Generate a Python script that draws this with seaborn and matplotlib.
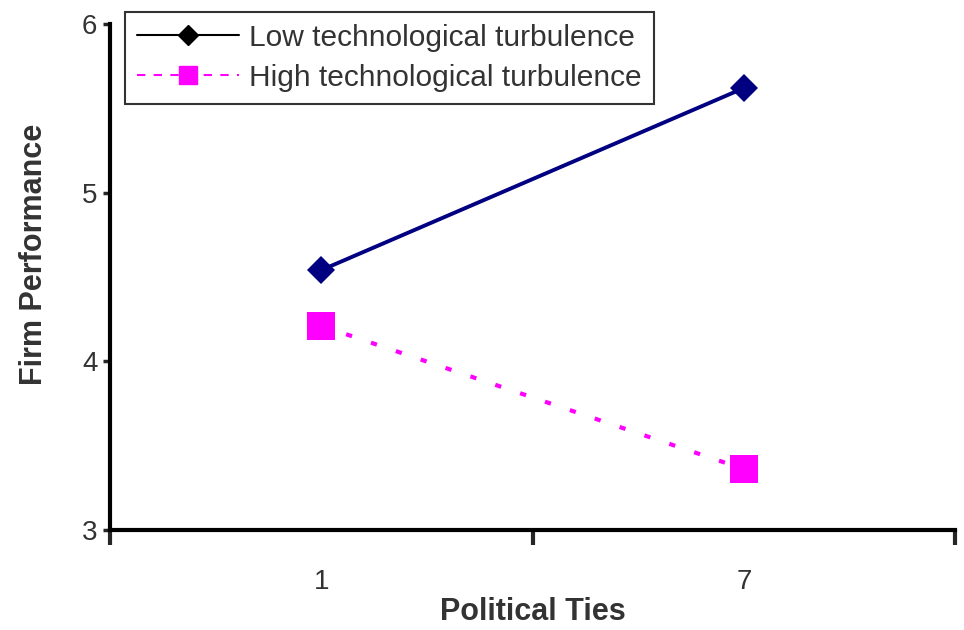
import matplotlib.pyplot as plt
import matplotlib.lines as mlines
import seaborn as sns
import pandas as pd

ties = ["1", "7"]
low_turb = [4.54, 5.62]
high_turb = [4.21, 3.36]
series_names = ["Low technological turbulence", "High technological turbulence"]

df = pd.DataFrame({
    "ties": ties * 2,
    "pos": [0, 1] * 2,
    "perf": low_turb + high_turb,
    "group": [series_names[0]] * 2 + [series_names[1]] * 2,
})

sns.set_style("white")
plt.rcParams['font.family'] = ['Liberation Sans', 'DejaVu Sans']

fig = plt.figure(figsize=(9.64, 6.3), dpi=100)
ax = fig.add_axes([0.114, 0.159, 0.877, 0.803])

sns.lineplot(data=df[df.group == series_names[0]], x="pos", y="perf", ax=ax,
             color="#000080", marker="D", markersize=14, linewidth=2.8,
             markeredgewidth=0, legend=False)
sns.lineplot(data=df[df.group == series_names[1]], x="pos", y="perf", ax=ax,
             color="#FF00FF", marker="s", markersize=20, linewidth=3.0,
             markeredgewidth=0, dashes=False, legend=False)
ax.lines[-1].set_dashes((1.5, 4.8))

ax.set_xlim(-0.5, 1.5)
ax.set_ylim(3, 6)
ax.set_yticks([3, 4, 5, 6])
ax.set_xticks([-0.5, 0.5, 1.5])
ax.set_xticklabels([])
ax.set_xticks([0, 1], minor=True)
ax.set_xticklabels(ties, minor=True)
ax.tick_params(axis="x", which="major", direction="out", length=11, width=3, bottom=True)
ax.tick_params(axis="x", which="minor", length=0, pad=28, labelsize=20,
               labelcolor="#333333", bottom=True)
ax.tick_params(axis="y", direction="out", length=5, width=2.5, labelsize=20,
               labelcolor="#333333", left=True, pad=4)

for side in ["top", "right"]:
    ax.spines[side].set_visible(False)
for side in ["left", "bottom"]:
    ax.spines[side].set_linewidth(3)
    ax.spines[side].set_color("black")

ax.set_xlabel("Political Ties", fontsize=22, fontweight="bold", color="#333333", labelpad=2)
ax.set_ylabel("Firm Performance", fontsize=22, fontweight="bold", color="#333333")
ax.yaxis.set_label_coords(-0.072, 0.545)

h1 = mlines.Line2D([], [], color="black", marker="D", markersize=10, linewidth=1.5)
h2 = mlines.Line2D([], [], color="#FF00FF", marker="s", markersize=13, linewidth=1.5,
                   linestyle=(0, (4, 4)))
leg = ax.legend([h1, h2], series_names, loc="upper left", bbox_to_anchor=(0.018, 1.024),
                fontsize=21.5, frameon=True, fancybox=False, edgecolor="black",
                handlelength=3.4, borderpad=0.4, labelspacing=0.4, handletextpad=0.35,
                borderaxespad=0)
leg.get_frame().set_linewidth(1.5)
for t in leg.get_texts():
    t.set_color("#333333")

fig.savefig("out.png", dpi=100)
